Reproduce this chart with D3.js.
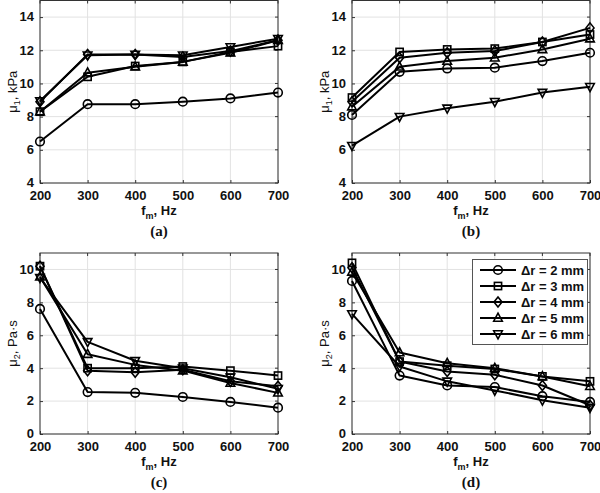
<!DOCTYPE html>
<html><head><meta charset="utf-8">
<script src="https://cdn.jsdelivr.net/npm/d3@7"></script>
<style>body{margin:0;background:#fff}svg{display:block}</style>
</head><body>
<svg id="c" width="600" height="493"></svg>
<script>
const freqs = [200, 300, 400, 500, 600, 700];
const seriesNames = ["\u0394r = 2 mm", "\u0394r = 3 mm", "\u0394r = 4 mm", "\u0394r = 5 mm", "\u0394r = 6 mm"];
const markers = ["circle", "square", "diamond", "triangle", "triangleDown"];
const xTicks = [200, 300, 400, 500, 600, 700];
const mu1Ticks = [4, 6, 8, 10, 12, 14];
const mu2Ticks = [0, 2, 4, 6, 8, 10];

// Panel (a): mu1, kPa
const a_2mm = [6.5, 8.75, 8.75, 8.9, 9.1, 9.45];
const a_3mm = [8.3, 10.4, 11.05, 11.3, 11.9, 12.25];
const a_4mm = [8.9, 11.75, 11.75, 11.6, 11.95, 12.6];
const a_5mm = [8.3, 10.65, 11.0, 11.3, 11.85, 12.6];
const a_6mm = [8.95, 11.7, 11.75, 11.7, 12.2, 12.7];
// Panel (b): mu1, kPa
const b_2mm = [8.1, 10.7, 10.9, 10.95, 11.35, 11.85];
const b_3mm = [9.15, 11.9, 12.05, 12.1, 12.5, 12.95];
const b_4mm = [8.9, 11.55, 11.85, 11.95, 12.5, 13.35];
const b_5mm = [8.6, 11.0, 11.35, 11.55, 12.05, 12.7];
const b_6mm = [6.25, 8.0, 8.5, 8.9, 9.45, 9.8];
// Panel (c): mu2, Pa·s
const c_2mm = [7.6, 2.55, 2.5, 2.25, 1.95, 1.6];
const c_3mm = [10.2, 4.0, 4.0, 4.1, 3.85, 3.55];
const c_4mm = [10.2, 3.85, 3.75, 3.9, 3.2, 2.9];
const c_5mm = [9.55, 4.85, 4.2, 3.85, 3.1, 2.5];
const c_6mm = [9.5, 5.6, 4.45, 4.0, 3.45, 2.75];
// Panel (d): mu2, Pa·s
const d_2mm = [9.3, 3.55, 2.95, 2.85, 2.3, 1.95];
const d_3mm = [10.4, 4.4, 4.15, 3.95, 3.5, 3.2];
const d_4mm = [10.1, 4.4, 3.8, 3.6, 2.95, 1.75];
const d_5mm = [9.85, 4.95, 4.3, 4.0, 3.5, 2.9];
const d_6mm = [7.3, 4.1, 3.2, 2.65, 2.05, 1.6];

const svg = d3.select("#c");
const SANS = "'Liberation Sans', Arial, sans-serif";
const SERIF = "'Liberation Serif', 'Times New Roman', serif";

function drawMarker(g, type, x, y) {
  const s = g.append("g").attr("transform", `translate(${x},${y})`);
  let el;
  if (type === "circle") el = s.append("circle").attr("r", 4.3);
  else if (type === "square") el = s.append("rect").attr("x", -3.6).attr("y", -3.6).attr("width", 7.2).attr("height", 7.2);
  else if (type === "diamond") el = s.append("path").attr("d", "M0,-5L4,0L0,5L-4,0Z");
  else if (type === "triangle") el = s.append("path").attr("d", "M0,-4.8L4.3,3.2L-4.3,3.2Z");
  else el = s.append("path").attr("d", "M0,4.8L4.3,-3.2L-4.3,-3.2Z");
  el.attr("fill", "none").attr("stroke", "#000").attr("stroke-width", 1.6);
}

function panel(o) {
  const x = d3.scaleLinear().domain([200, 700]).range([o.x0, o.x1]);
  const y = d3.scaleLinear().domain(o.ydom).range([o.y1, o.y0]);
  const g = svg.append("g");
  // grid
  g.selectAll(null).data(xTicks).join("line")
    .attr("x1", d => x(d)).attr("x2", d => x(d)).attr("y1", o.y0).attr("y2", o.y1)
    .attr("stroke", "#e2e2e2").attr("stroke-width", 1);
  g.selectAll(null).data(o.yticks).join("line")
    .attr("x1", o.x0).attr("x2", o.x1).attr("y1", d => y(d)).attr("y2", d => y(d))
    .attr("stroke", "#e2e2e2").attr("stroke-width", 1);
  // axes
  const xa = g.append("g").attr("transform", `translate(0,${o.y1})`)
    .call(d3.axisBottom(x).tickValues(xTicks).tickSize(-3).tickPadding(8));
  const ya = g.append("g").attr("transform", `translate(${o.x0},0)`)
    .call(d3.axisLeft(y).tickValues(o.yticks).tickSize(-3).tickPadding(6));
  [xa, ya].forEach(a => {
    a.select(".domain").remove();
    a.selectAll("line").attr("stroke", "#333");
    a.selectAll("text").attr("font-family", SANS).attr("font-weight", "bold")
      .attr("font-size", 13).attr("fill", "#111");
  });
  ya.selectAll("text").attr("dy", "0.3em");
  // top/right ticks
  g.selectAll(null).data(xTicks).join("line")
    .attr("x1", d => x(d)).attr("x2", d => x(d)).attr("y1", o.y0).attr("y2", o.y0 + 3).attr("stroke", "#333");
  g.selectAll(null).data(o.yticks).join("line")
    .attr("x1", o.x1).attr("x2", o.x1 - 3).attr("y1", d => y(d)).attr("y2", d => y(d)).attr("stroke", "#333");
  g.append("rect").attr("x", o.x0).attr("y", o.y0).attr("width", o.x1 - o.x0).attr("height", o.y1 - o.y0)
    .attr("fill", "none").attr("stroke", "#333").attr("stroke-width", 1);
  // lines
  const line = d3.line().x((d, i) => x(freqs[i])).y(d => y(d));
  o.series.forEach(s => {
    g.append("path").attr("d", line(s)).attr("fill", "none").attr("stroke", "#000")
      .attr("stroke-width", 2).attr("stroke-linejoin", "round");
  });
  o.series.forEach((s, k) => {
    s.forEach((v, i) => drawMarker(g, markers[k], x(freqs[i]), y(v)));
  });
  // x title
  const cx = (o.x0 + o.x1) / 2;
  const xt = g.append("text").attr("x", cx).attr("y", o.y1 + 32).attr("text-anchor", "middle")
    .attr("font-family", SANS).attr("font-weight", "bold").attr("font-size", 13).attr("fill", "#111");
  xt.append("tspan").text("f");
  xt.append("tspan").attr("font-size", 9).attr("dy", 4).text("m");
  xt.append("tspan").attr("dy", -4).text(", Hz");
  // y title
  const yt = g.append("text").attr("transform", `translate(${o.x0 - 23},${(o.y0 + o.y1) / 2}) rotate(-90)`)
    .attr("text-anchor", "middle").attr("font-family", SANS).attr("font-size", 13).attr("fill", "#111");
  yt.append("tspan").text("\u03bc");
  yt.append("tspan").attr("font-size", 9).attr("dy", 3).text(o.sub);
  yt.append("tspan").attr("dy", -3).text(o.unit);
  // label
  g.append("text").attr("x", cx).attr("y", o.y1 + 53).attr("text-anchor", "middle")
    .attr("font-family", SERIF).attr("font-weight", "bold").attr("font-size", 15).attr("fill", "#111")
    .text(o.label);
}

panel({x0: 40, x1: 278, y0: 0.5, y1: 183, ydom: [4, 15], yticks: mu1Ticks, sub: "1", unit: ", kPa", label: "(a)",
  series: [a_2mm, a_3mm, a_4mm, a_5mm, a_6mm]});
panel({x0: 352, x1: 590, y0: 0.5, y1: 183, ydom: [4, 15], yticks: mu1Ticks, sub: "1", unit: ", kPa", label: "(b)",
  series: [b_2mm, b_3mm, b_4mm, b_5mm, b_6mm]});
panel({x0: 40, x1: 278, y0: 253, y1: 434, ydom: [0, 11], yticks: mu2Ticks, sub: "2", unit: ", Pa\u00b7s", label: "(c)",
  series: [c_2mm, c_3mm, c_4mm, c_5mm, c_6mm]});
panel({x0: 352, x1: 590, y0: 253, y1: 434, ydom: [0, 11], yticks: mu2Ticks, sub: "2", unit: ", Pa\u00b7s", label: "(d)",
  series: [d_2mm, d_3mm, d_4mm, d_5mm, d_6mm]});

// legend in panel (d)
const lg = svg.append("g");
lg.append("rect").attr("x", 472.5).attr("y", 259.5).attr("width", 115).attr("height", 85)
  .attr("fill", "#fff").attr("stroke", "#555").attr("stroke-width", 1);
seriesNames.forEach((n, k) => {
  const yy = 270 + k * 16;
  lg.append("line").attr("x1", 480).attr("x2", 516).attr("y1", yy).attr("y2", yy)
    .attr("stroke", "#000").attr("stroke-width", 2);
  drawMarker(lg, markers[k], 498, yy);
  lg.append("text").attr("x", 521).attr("y", yy + 4.5).attr("font-family", SANS).attr("font-weight", "bold")
    .attr("font-size", 13).attr("fill", "#111").text(n);
});
</script>
</body></html>
